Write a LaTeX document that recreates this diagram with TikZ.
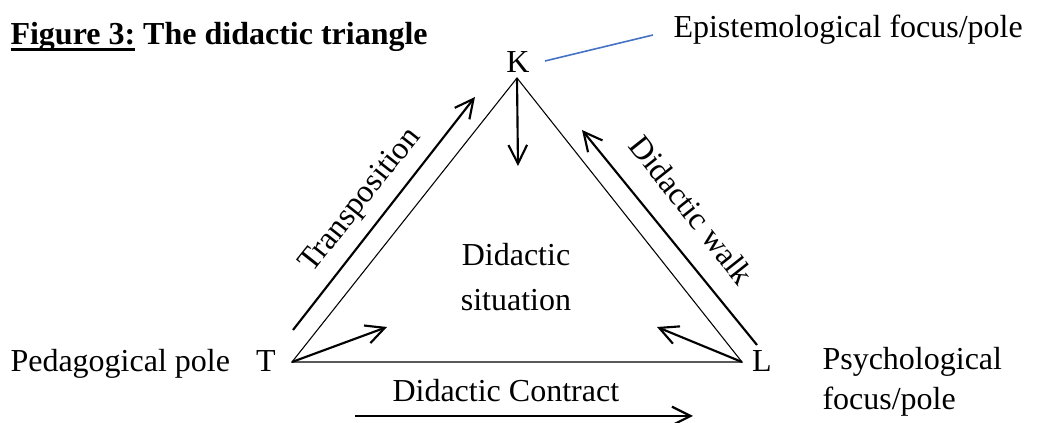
\documentclass[tikz,border=0pt]{standalone}
\usepackage{fontspec}
\setmainfont{Liberation Serif}
\usetikzlibrary{arrows.meta}
\definecolor{wordblue}{RGB}{68,114,196}
\newcommand{\dickunter}[1]{\setbox0\hbox{#1}\rlap{\rule[-2.1pt]{\wd0}{0.9pt}}\box0\relax}

\begin{document}
\begin{tikzpicture}[x=0.375pt, y=-0.375pt,
  >={Straight Barb[length=7pt,width=7pt]},
  pfeil/.style={->, line width=0.8pt},
  schrift/.style={font=\fontsize{12}{15}\selectfont, inner sep=0pt}]

\useasboundingbox (0,0) rectangle (1038,423);

% Ecken des Dreiecks
\coordinate (K) at (517,78);
\coordinate (T) at (292,362);
\coordinate (L) at (742,362);
\draw[line width=0.4pt] (K) -- (T) -- (L) -- cycle;

% Ueberschrift
\node[schrift, anchor=base west] (titel) at (10,45)
  {\bfseries\dickunter{Figure 3:} The didactic triangle};

% Eckbeschriftungen und Pole
\node[schrift, anchor=base] (kname) at (518,73) {K};
\node[schrift, anchor=base] (tname) at (266,372) {T};
\node[schrift, anchor=base] (lname) at (762,372) {L};
\node[schrift, anchor=base west] (epist) at (673,38) {Epistemological focus/pole};
\node[schrift, anchor=base west] (paed) at (10,372) {Pedagogical pole};
\node[schrift, anchor=base west] (psych) at (822,370) {Psychological};
\node[schrift, anchor=base west] (psychb) at (822,410) {focus/pole};
\draw[wordblue, line width=0.6pt] (545,61) coordinate (blauA) -- (653,35) coordinate (blauB);

% Mitte
\node[schrift, font=\fontsize{12}{17}\selectfont, align=center] (sit) at (516,277)
  {Didactic\\situation};

% Pfeile entlang der Seiten
\coordinate (tpA) at (293,330);
\coordinate (tpB) at (475,97);
\draw[pfeil] (tpA) -- (tpB);
\node[schrift, rotate=51.6] (transp) at (361,201) {Transposition};

\coordinate (dwA) at (757,345);
\coordinate (dwB) at (582,130);
\draw[pfeil] (dwA) -- (dwB);
\node[schrift, rotate=-51.6] (walk) at (692,210) {Didactic walk};

\coordinate (dcA) at (355,416);
\coordinate (dcB) at (693,416);
\draw[pfeil] (dcA) -- (dcB);
\node[schrift, anchor=base west] (contract) at (392,402) {Didactic Contract};

% Pfeile von den Ecken ins Innere
\coordinate (kIn) at (518,166);
\coordinate (tIn) at (387,327);
\coordinate (lIn) at (657,327);
\draw[pfeil] (K) -- (kIn);
\draw[pfeil] (T) -- (tIn);
\draw[pfeil] (L) -- (lIn);

\end{tikzpicture}
\end{document}
